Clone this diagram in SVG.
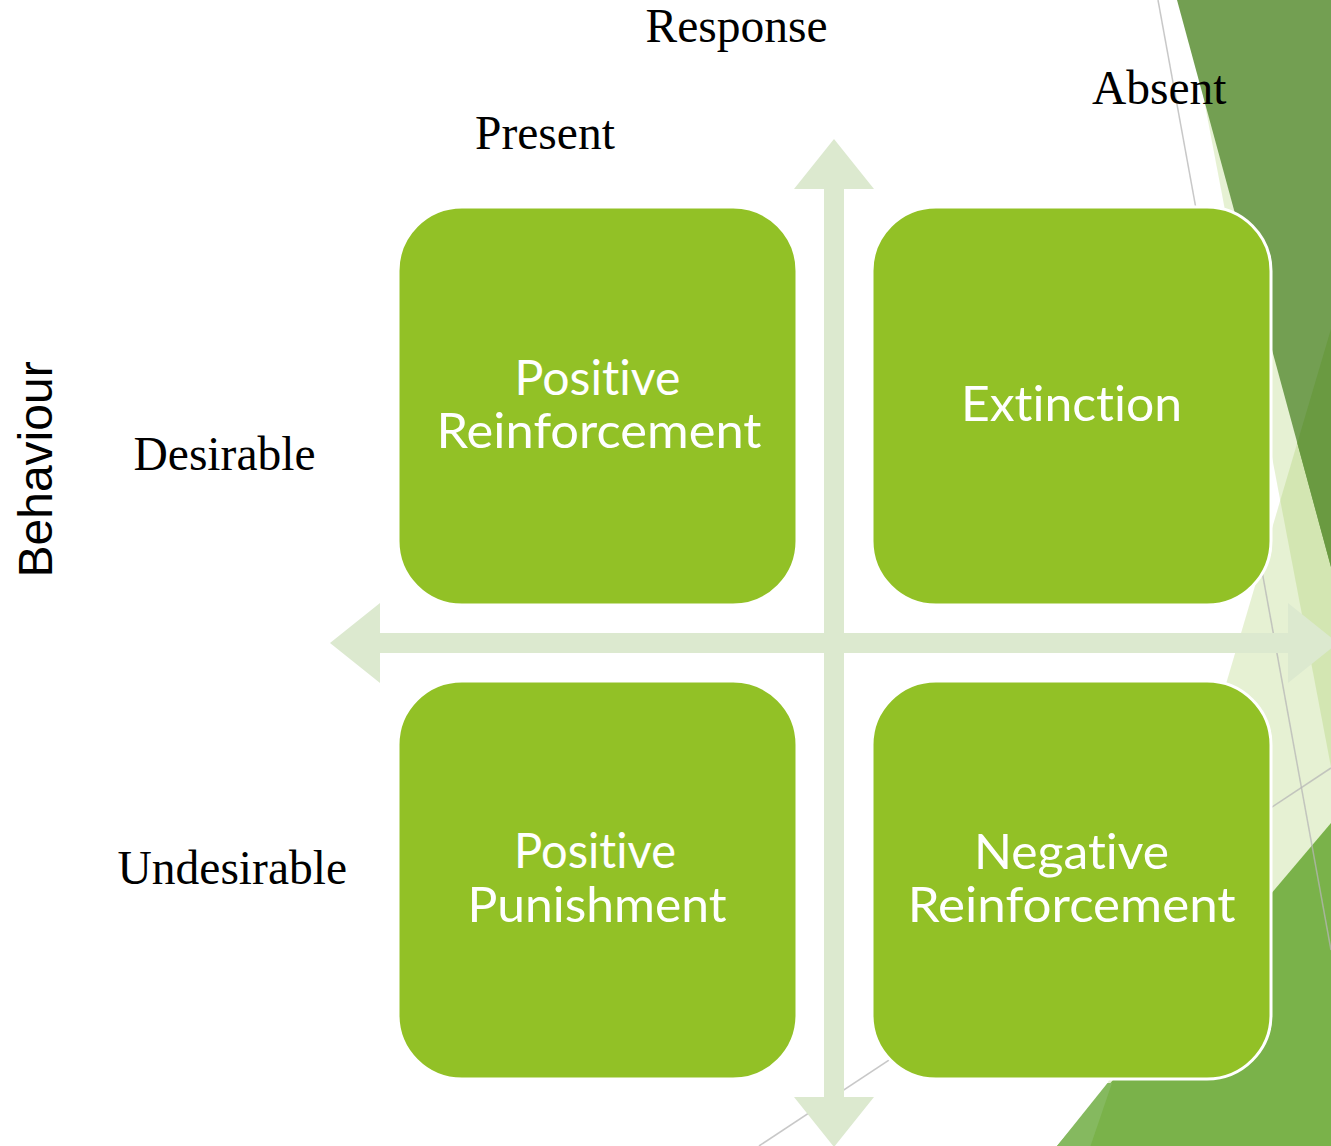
<svg xmlns="http://www.w3.org/2000/svg" width="1331" height="1146" viewBox="0 0 1331 1146">
  <style>
    .box { fill: #92C126; stroke: #FFFFFF; stroke-width: 3; }
    .boxtext { font-family: Lato, "Open Sans", "Noto Sans", sans-serif; font-size: 47.5px; fill: #FFFFFF; text-anchor: middle; font-variant-ligatures: none; font-feature-settings: "liga" 0, "clig" 0; }
    .label { font-family: "Liberation Serif", "Times New Roman", serif; font-size: 47.5px; fill: #000000; }
    .axis { fill: #DCE9CF; }
    .thin { stroke: #B5B5B5; stroke-width: 1.5; fill: none; opacity: 0.75; }
  </style>
  <rect x="0" y="0" width="1331" height="1146" fill="#FFFFFF"/>

  <g id="background">
    <polygon points="1185,0 1331,0 1331,767" fill="#9CC84E" opacity="0.25"/>
    <polygon points="1331,329 1100,1110 1331,1146" fill="#9CC84E" opacity="0.25"/>
    <polygon points="1177,0 1331,0 1331,567" fill="#739F52"/>
    <polygon points="1331,329 1297.3,443 1331,567" fill="#6A9A41"/>
    <polygon points="1331,823 1057,1146 1331,1146" fill="#7AB24A"/>
    <polygon points="1107.5,1083 1112,1083 1090.5,1146 1057,1146" fill="#85B95F"/>
    <line class="thin" x1="1158" y1="0" x2="1331" y2="950"/>
    <line class="thin" x1="759" y1="1146" x2="1331" y2="768"/>
  </g>

  <g id="connectors">
    <path class="axis" d="M330,643 L380,603 L380,633 L1288,633 L1288,603 L1338,643 L1288,683 L1288,653 L380,653 L380,683 Z"/>
    <path class="axis" d="M834,139 L874,189 L844,189 L844,1097 L874,1097 L834,1147 L794,1097 L824,1097 L824,189 L794,189 Z"/>
  </g>

  <g id="node-positive-reinforcement">
    <rect class="box" x="398" y="207" width="399" height="398" rx="64" ry="64"/>
    <text class="boxtext" x="597.5" y="394.5" textLength="166" lengthAdjust="spacingAndGlyphs">Positive</text>
    <text class="boxtext" x="599" y="447.5" textLength="325" lengthAdjust="spacingAndGlyphs">Reinforcement</text>
  </g>

  <g id="node-extinction">
    <rect class="box" x="872" y="207" width="399" height="398" rx="64" ry="64"/>
    <text class="boxtext" x="1071.5" y="420.7" textLength="221" lengthAdjust="spacingAndGlyphs">Extinction</text>
  </g>

  <g id="node-positive-punishment">
    <rect class="box" x="398" y="681" width="399" height="398" rx="64" ry="64"/>
    <text class="boxtext" x="595" y="868.3" textLength="162" lengthAdjust="spacingAndGlyphs">Positive</text>
    <text class="boxtext" x="597" y="922.3" textLength="259" lengthAdjust="spacingAndGlyphs">Punishment</text>
  </g>

  <g id="node-negative-reinforcement">
    <rect class="box" x="872" y="681" width="399" height="398" rx="64" ry="64"/>
    <text class="boxtext" x="1071.5" y="869" textLength="195" lengthAdjust="spacingAndGlyphs">Negative</text>
    <text class="boxtext" x="1071.7" y="921.7" textLength="328" lengthAdjust="spacingAndGlyphs">Reinforcement</text>
  </g>

  <g id="labels">
    <text class="label" x="645.5" y="42">Response</text>
    <text class="label" x="475" y="149">Present</text>
    <text class="label" x="1092" y="103.5">Absent</text>
    <text class="label" x="133.5" y="470">Desirable</text>
    <text class="label" x="117.5" y="884" font-size="48">Undesirable</text>
    <text transform="translate(51.5,577.5) rotate(-90)" x="0" y="0" font-family="'Liberation Sans', Arial, sans-serif" font-size="48" fill="#000000">Behaviour</text>
  </g>
</svg>
